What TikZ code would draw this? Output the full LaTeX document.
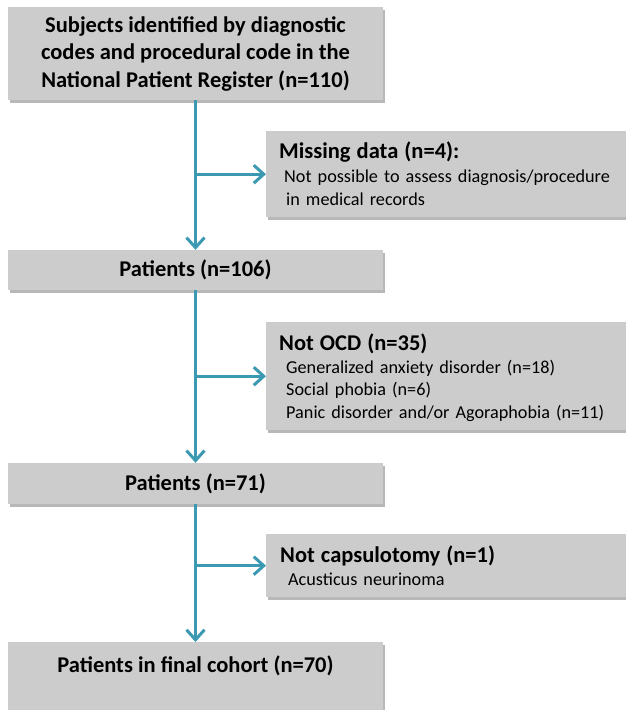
\documentclass[tikz,border=0pt]{standalone}
\usepackage{fontspec}
\setmainfont{Carlito}
\usetikzlibrary{arrows.meta,shadows}

\definecolor{r59g154b178}{RGB}{59,154,178}
\definecolor{r204g204b204}{RGB}{204,204,204}
\newcommand\boxtitlefont{\fontsize{22.5}{22.5}\bfseries\selectfont}
\newcommand\boxsubfont{\fontsize{18.2}{22.5}\selectfont}

\tikzset{
  stagebox/.style={fill=r204g204b204, draw=none, inner sep=0pt, minimum width=375pt,
    drop shadow={shadow xshift=2pt, shadow yshift=-3pt, fill=black!55, opacity=0.5}},
  sidebox/.style={stagebox, minimum width=380pt, anchor=north west},
  stagetext/.style={font=\fontsize{22.5}{27.5}\bfseries\selectfont, align=center},
  sidetext/.style={font=\boxsubfont, inner sep=0pt, anchor=north west, text width=350pt, align=left},
  flowline/.style={draw=r59g154b178, line width=3pt, -{Straight Barb[length=10pt,width=18pt]}},
}

\begin{document}
\begin{tikzpicture}[x=1pt,y=-1pt]
            \fill[white] (0,0) rectangle (625,710);
            \useasboundingbox (0,0) rectangle (625,710);

            % Drawing main column boxes
            \node[stagebox, stagetext, minimum height=93pt] (subjects) at (195.5,53.5)
              {Subjects identified by diagnostic\\codes and procedural code in the\\National Patient Register (n=110)};
            \node[stagebox, stagetext, minimum height=40pt] (pat106) at (195.5,270) {Patients (n=106)};
            \node[stagebox, stagetext, minimum height=41pt] (pat71) at (195.5,483.5) {Patients (n=71)};
            \node[stagebox, stagetext, anchor=north, text height=30pt, text depth=80pt] (final) at (195.5,642)
              {Patients in final cohort (n=70)};

            % Drawing excluded boxes
            \node[sidebox, minimum height=86pt] (missing) at (266,131) {};
            \node[sidetext] (missingtext) at ([shift={(13,11)}]missing.north west)
              {{\boxtitlefont Missing data (n=4):}\\[1.5pt]\hspace*{5pt}Not possible to assess diagnosis/procedure\\\hspace*{7pt}in medical records};

            \node[sidebox, minimum height=108pt] (notocd) at (266,322) {};
            \node[sidetext] (notocdtext) at ([shift={(13,12)}]notocd.north west)
              {{\boxtitlefont Not OCD (n=35)}\\\hspace*{7pt}Generalized anxiety disorder (n=18)\\\hspace*{7pt}Social phobia (n=6)\\\hspace*{7pt}Panic disorder and/or Agoraphobia (n=11)};

            \node[sidebox, minimum height=63pt] (notcaps) at (266,534) {};
            \node[sidetext] (notcapstext) at ([shift={(14,12)}]notcaps.north west)
              {{\boxtitlefont Not capsulotomy (n=1)}\\\hspace*{8pt}Acusticus neurinoma};

            % Drawing flow arrows
            \draw[flowline] (subjects) -- (pat106);
            \draw[flowline] (subjects.south |- missing.west) -- (missing.west);
            \draw[flowline] (pat106) -- (pat71);
            \draw[flowline] (pat106.south |- notocd.west) -- (notocd.west);
            \draw[flowline] (pat71.south) -- (final.north);
            \draw[flowline] (pat71.south |- notcaps.west) -- (notcaps.west);
\end{tikzpicture}
\end{document}
